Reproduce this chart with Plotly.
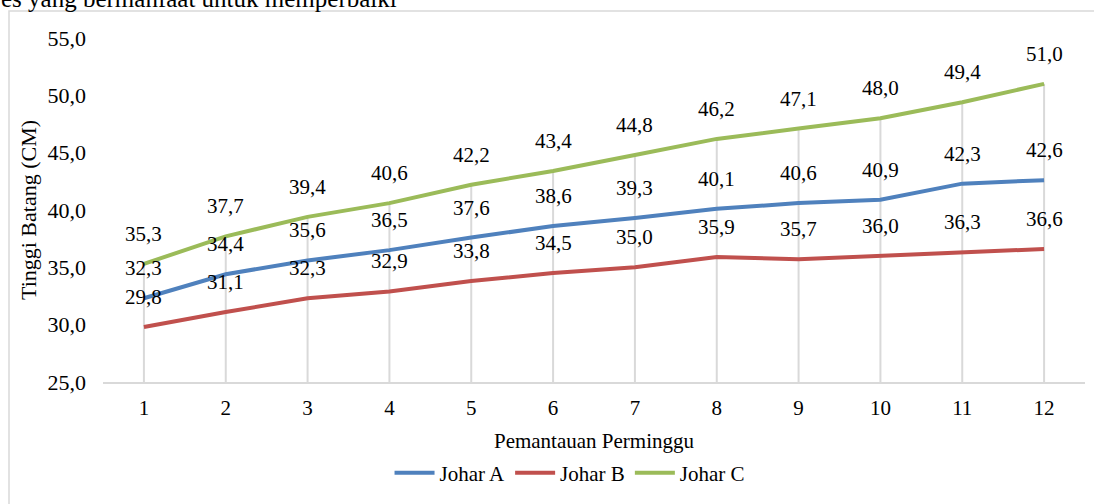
import plotly.graph_objects as go

weeks = [1, 2, 3, 4, 5, 6, 7, 8, 9, 10, 11, 12]
johar_a = [32.3, 34.4, 35.6, 36.5, 37.6, 38.6, 39.3, 40.1, 40.6, 40.9, 42.3, 42.6]
johar_b = [29.8, 31.1, 32.3, 32.9, 33.8, 34.5, 35.0, 35.9, 35.7, 36.0, 36.3, 36.6]
johar_c = [35.3, 37.7, 39.4, 40.6, 42.2, 43.4, 44.8, 46.2, 47.1, 48.0, 49.4, 51.0]
series_names = ["Johar A", "Johar B", "Johar C"]
colors = ["#4F81BD", "#C0504D", "#9BBB59"]
y_ticks = [25, 30, 35, 40, 45, 50, 55]
y_min, y_max = 25, 55

FONT = "Liberation Serif"
W, H = 1094, 504
ML, MR, MT, MB = 103, 9, 38, 122
PW, PH = W - ML - MR, H - MT - MB


def px_x(p):
    return (p - ML) / PW


def px_y(p):
    return (H - MB - p) / PH


fig = go.Figure()

# drop lines from the highest series to the axis
dx, dy = [], []
for i, w in enumerate(weeks):
    top = max(johar_a[i], johar_b[i], johar_c[i])
    dx += [w, w, None]
    dy += [y_min, top, None]
fig.add_trace(go.Scatter(x=dx, y=dy, mode="lines", line=dict(color="#D9D9D9", width=2),
                         showlegend=False, hoverinfo="skip"))

for name, vals, col in zip(series_names, [johar_a, johar_b, johar_c], colors):
    fig.add_trace(go.Scatter(x=weeks, y=vals, mode="lines", name=name,
                             line=dict(color=col, width=4)))

annotations = []
for vals in [johar_a, johar_b, johar_c]:
    for w, v in zip(weeks, vals):
        annotations.append(dict(x=w, y=v, xref="x", yref="y", text=f"{v:.1f}".replace(".", ","),
                                showarrow=False, yshift=30, yanchor="middle",
                                font=dict(family=FONT, size=21, color="#000000")))

# document text above the chart (cut off at the top)
annotations.append(dict(x=px_x(-1), y=px_y(14), xref="paper", yref="paper",
                        text="es yang bermanfaat untuk memperbaiki", showarrow=False,
                        xanchor="left", yanchor="bottom",
                        font=dict(family=FONT, size=25, color="#000000")))

fig.update_layout(
    width=W, height=H,
    margin=dict(l=ML, r=MR, t=MT, b=MB),
    paper_bgcolor="white", plot_bgcolor="white",
    separators=",.",
    font=dict(family=FONT, color="#000000"),
    annotations=annotations,
    showlegend=True,
    legend=dict(orientation="h", x=0.4756, xanchor="center", y=px_y(473), yanchor="middle",
                font=dict(family=FONT, size=21), itemwidth=40, tracegroupgap=0),
    shapes=[dict(type="rect", xref="paper", yref="paper",
                 x0=px_x(9), x1=px_x(1200), y0=px_y(600), y1=px_y(11),
                 line=dict(color="#D9D9D9", width=1.5), fillcolor="rgba(0,0,0,0)", layer="below")],
    xaxis=dict(range=[0.5, 12.5], tickvals=weeks, ticktext=[str(w) for w in weeks],
               showgrid=False, zeroline=False, showline=True, linecolor="#D9D9D9", linewidth=2,
               tickfont=dict(family=FONT, size=21), ticks="", ticklabelstandoff=6,
               title=dict(text="Pemantauan Perminggu", font=dict(family=FONT, size=21), standoff=14)),
    yaxis=dict(range=[y_min, y_max], tickvals=y_ticks, tickformat=".1f",
               showgrid=False, zeroline=False, showline=False,
               tickfont=dict(family=FONT, size=22), ticks="", ticklabelstandoff=16,
               title=dict(text="Tinggi Batang (CM)", font=dict(family=FONT, size=22), standoff=4)),
)

fig.write_html("out.html", config={"displayModeBar": False},
               post_script="document.body.style.margin='0';")
